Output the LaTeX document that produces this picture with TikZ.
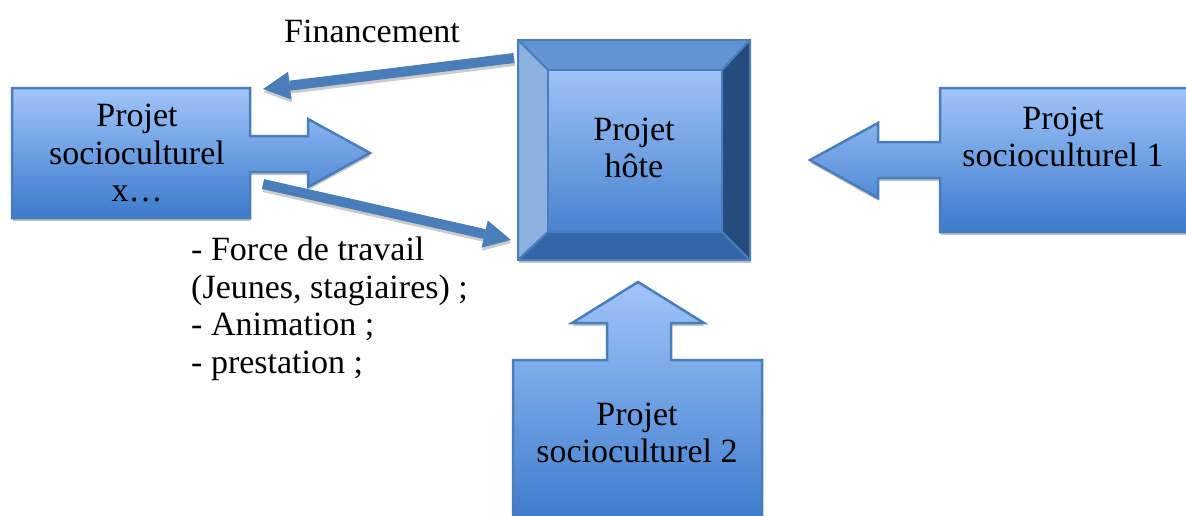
\documentclass[tikz,border=0pt]{standalone}
\usepackage{fontspec}
\setmainfont{Liberation Serif}
\usetikzlibrary{arrows.meta,shadows}
\definecolor{bord}{RGB}{74,126,187}
\definecolor{gtop}{RGB}{160,197,250}
\definecolor{gbot}{RGB}{60,122,203}
\definecolor{bevT}{RGB}{98,148,211}
\definecolor{bevL}{RGB}{141,178,226}
\definecolor{bevR}{RGB}{37,76,124}
\definecolor{bevB}{RGB}{52,101,168}
\definecolor{itop}{RGB}{158,195,248}
\definecolor{ibot}{RGB}{72,130,206}
\tikzset{
 callout/.style={draw=bord, line width=2.5pt, line join=miter, top color=gtop, bottom color=gbot,
   drop shadow={shadow xshift=0.5pt, shadow yshift=-3pt, fill=gray!45, opacity=1}},
 lbl/.style={font=\fontsize{34}{37.5}\selectfont, align=center, inner sep=0pt},
 flow/.style={draw=bord, line width=10pt, -{Triangle[width=28pt,length=27pt,line width=0pt]}},
 flowshadow/.style={draw=gray!40, line width=10pt, -{Triangle[width=28pt,length=27pt,line width=0pt]}},
 bevel/.style={draw=bord, line width=2pt, line join=round},
}
\begin{document}
\begin{tikzpicture}[x=1pt,y=-1pt]
\useasboundingbox (0,0) rectangle (1186,515);
\clip (0,0) rectangle (1186,515);
% left callout
\path[callout] (12,88) -- (250,88) -- (250,136) -- (308,136) -- (308,119) -- (370,153)
  -- (308,187) -- (308,172) -- (250,172) -- (250,218) -- (12,218) -- cycle;
% right callout
\path[callout] (1195,88) -- (940,88) -- (940,142) -- (878,142) -- (878,123) -- (810,160)
  -- (878,198) -- (878,178) -- (940,178) -- (940,232) -- (1195,232) -- cycle;
% bottom callout
\path[callout] (513,525) -- (513,360) -- (607,360) -- (607,323) -- (572,323) -- (638,282)
  -- (704,323) -- (671,323) -- (671,360) -- (762,360) -- (762,525) -- cycle;
% host bevel box
\fill[gray!45] (519,43) rectangle (751,263);
\path[bevel, fill=bevT] (518,40) -- (750,40) -- (722,70) -- (548,70) -- cycle;
\path[bevel, fill=bevL] (518,40) -- (548,70) -- (548,232) -- (518,260) -- cycle;
\path[bevel, fill=bevR] (750,40) -- (750,260) -- (722,232) -- (722,70) -- cycle;
\path[bevel, fill=bevB] (518,260) -- (750,260) -- (722,232) -- (548,232) -- cycle;
\path[bevel, top color=itop, bottom color=ibot] (548,70) rectangle (722,232);
\draw[bord, line width=2.5pt] (518,40) rectangle (750,260);
% labels
\node[lbl] (px) at (137,153) {Projet\\socioculturel\\x…};
\node[lbl] (host) at (634,148) {Projet\\hôte};
\node[lbl] (p1) at (1063,137) {Projet\\socioculturel 1};
\node[lbl] (p2) at (637,433) {Projet\\socioculturel 2};
\node[lbl, anchor=base] (fin) at (372,42) {Financement};
\node[lbl, align=left, anchor=west] (res) at (191,309) {- Force de travail\\(Jeunes, stagiaires) ;\\- Animation ;\\- prestation ;};
% connectors
\coordinate (finS) at (514,58);
\coordinate (finE) at (263,89);
\coordinate (resS) at (263,184);
\coordinate (resE) at (511,240);
\draw[flowshadow] ([shift={(0.5,3)}]finS) -- ([shift={(0.5,3)}]finE);
\draw[flowshadow] ([shift={(0.5,3)}]resS) -- ([shift={(0.5,3)}]resE);
\draw[flow] (finS) -- (finE);
\draw[flow] (resS) -- (resE);
\end{tikzpicture}
\end{document}
